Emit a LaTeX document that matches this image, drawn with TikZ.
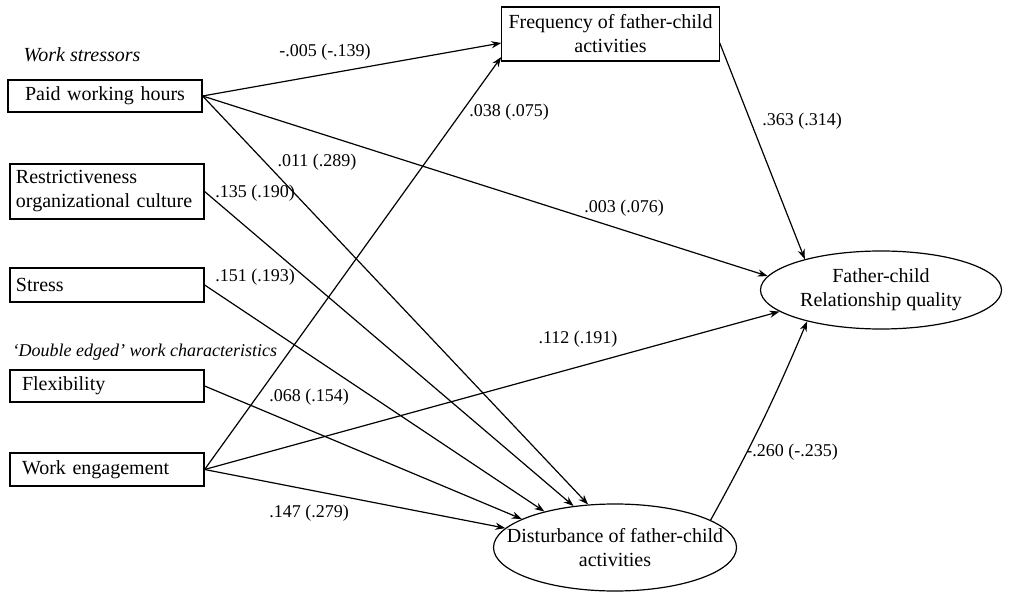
\documentclass[tikz,border=0pt]{standalone}
\usepackage{fontspec}
\setmainfont{Liberation Serif}
\usetikzlibrary{shapes.geometric,arrows.meta}

\begin{document}
\begin{tikzpicture}[x=0.5pt,y=-0.5pt,line width=0.6pt,
    box/.style={draw, minimum width=97pt, text width=91pt, inner xsep=3pt, align=left},
    oval/.style={draw, ellipse, inner ysep=0pt, align=center},
    coef/.style={font=\small, inner sep=1pt},
    group/.style={font=\itshape},
    arrow/.style={-{Stealth[length=5pt,width=3.6pt]}}]
    \useasboundingbox (0,0) rectangle (1010,592);

    % Group headings
    \node[group] (stressors) at (82,55) {Work stressors};
    \node[group, font=\small\itshape, anchor=west, inner sep=0pt] (double) at (12,352) {‘Double edged’ work characteristics};

    % Work characteristics on the left
    \node[box, align=center, minimum height=16pt] (pwh) at (105,96) {Paid working hours};
    \node[box, minimum height=26.5pt] (roc) at (107,191.5) {Restrictiveness\\organizational culture};
    \node[box, minimum height=17pt] (stress) at (107,285) {Stress};
    \node[box, minimum height=16pt] (flex) at (107,386) {\hspace*{3pt}Flexibility};
    \node[box, minimum height=16.5pt] (we) at (107,469.5) {\hspace*{3pt}Work engagement};

    % Mediators and outcome
    \node[draw, align=center, minimum width=107.5pt, minimum height=27pt] (freq) at (610.5,34) {Frequency of father-child\\activities};
    \node[oval, minimum width=121.5pt, minimum height=43.5pt, inner xsep=-12pt] (dist) at (615,547.5) {Disturbance of father-child\\activities};
    \node[oval, minimum width=120.5pt, minimum height=39pt, inner xsep=0pt] (fcrq) at (881,290) {Father-child\\Relationship quality};

    % Paths
    \draw[arrow] (pwh.east) -- ([yshift=-4.5pt]freq.west);
    \draw[arrow] (pwh.east) -- (dist.122);
    \draw[arrow] (pwh.east) -- (fcrq.173);
    \draw[arrow] (roc.east) -- (dist.135);
    \draw[arrow] (stress.east) -- (dist.153);
    \draw[arrow] (flex.east) -- (dist.163);
    \draw[arrow] (we.east) -- ([yshift=-11.5pt]freq.west);
    \draw[arrow] (we.east) -- (fcrq.192);
    \draw[arrow] (we.east) -- (dist.170);
    \draw[arrow] ([yshift=-4.5pt]freq.east) -- (fcrq.158);
    \draw[arrow] (dist.16) to[bend right=3] (fcrq.203);

    % Coefficients
    \node[coef] (c1) at (325,52) {-.005 (-.139)};
    \node[coef] (c2) at (317,162) {.011 (.289)};
    \node[coef] (c3) at (255,193) {.135 (.190)};
    \node[coef] (c4) at (255,277) {.151 (.193)};
    \node[coef] (c5) at (509,112) {.038 (.075)};
    \node[coef] (c6) at (802,121) {.363 (.314)};
    \node[coef] (c7) at (624,208) {.003 (.076)};
    \node[coef] (c8) at (309,397) {.068 (.154)};
    \node[coef] (c9) at (309,513) {.147 (.279)};
    \node[coef] (c10) at (578,339) {.112 (.191)};
    \node[coef] (c11) at (792,452) {-.260 (-.235)};
\end{tikzpicture}
\end{document}
